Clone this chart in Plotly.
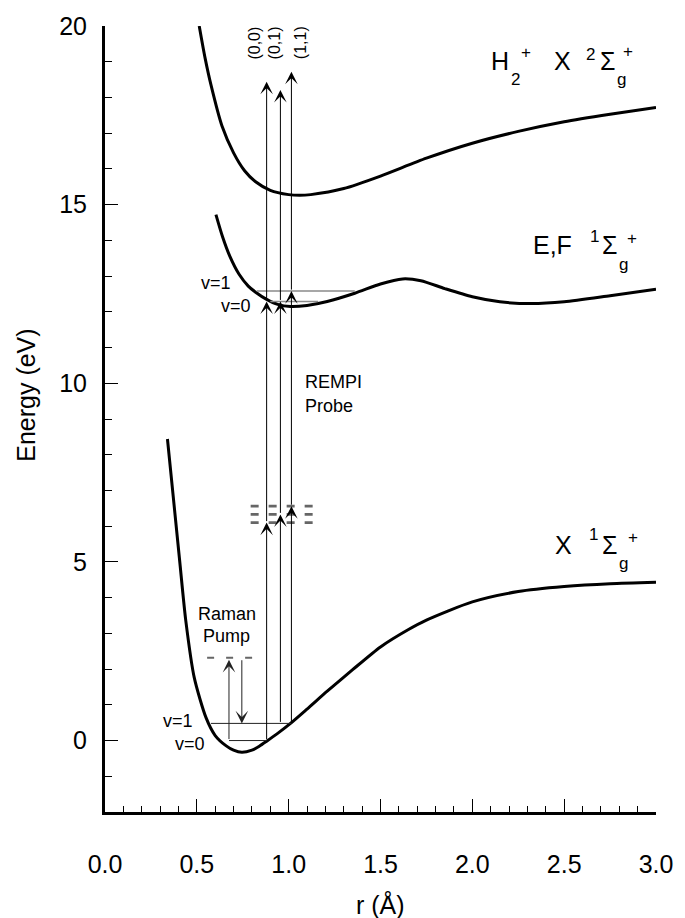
import plotly.graph_objects as go

# ---------------- data (r in Å, energy in eV) ----------------
# ground state X 1Σg+
ground_r = [0.34, 0.405, 0.44, 0.486, 0.55, 0.60, 0.66, 0.70, 0.745, 0.80, 0.84, 0.88, 0.94, 1.01, 1.1,
            1.21, 1.35, 1.5, 1.65, 1.75, 2.0, 2.25, 2.5, 2.75, 3.0]
ground_E = [8.44, 5.11, 3.35, 1.76, 0.64, 0.14, -0.15, -0.27, -0.33, -0.27, -0.16, -0.02, 0.2, 0.48, 0.88,
            1.38, 1.99, 2.62, 3.1, 3.37, 3.88, 4.17, 4.31, 4.39, 4.43]

# double-well E,F 1Σg+ state
ef_r = [0.604, 0.64, 0.68, 0.73, 0.78, 0.82, 0.88, 0.94, 1.01, 1.1, 1.21, 1.36, 1.5, 1.62, 1.72, 1.85,
        2.0, 2.15, 2.32, 2.5, 2.75, 3.0]
ef_E = [14.72, 14.1, 13.55, 13.05, 12.72, 12.55, 12.35, 12.21, 12.15, 12.18, 12.29, 12.52, 12.78, 12.92,
        12.87, 12.65, 12.42, 12.28, 12.23, 12.28, 12.45, 12.63]

# ion H2+ X 2Σg+
ion_r = [0.513, 0.545, 0.577, 0.637, 0.70, 0.76, 0.82, 0.9, 1.0, 1.06, 1.12, 1.3, 1.5, 1.75, 2.0, 2.25,
         2.5, 2.75, 3.0]
ion_E = [20.0, 19.1, 18.35, 17.2, 16.45, 15.95, 15.64, 15.4, 15.28, 15.26, 15.28, 15.45, 15.8, 16.3,
         16.72, 17.05, 17.32, 17.53, 17.72]

# vibrational levels: energy and r extent
ground_level_names = ["v=0", "v=1"]
ground_level_E = [0.0, 0.48]
ground_level_r0 = [0.675, 0.577]
ground_level_r1 = [0.88, 1.015]

ef_level_names = ["v=0", "v=1"]
ef_level_E = [12.29, 12.58]
ef_level_r0 = [0.90, 0.826]
ef_level_r1 = [1.16, 1.36]

# Raman pump
raman_up_r = 0.675
raman_up_tip = 2.26
raman_down_r = 0.745
raman_down_from = 2.29
raman_virtual_E = 2.32
raman_virtual_r = [0.556, 0.81]

# REMPI probe transitions (v', v'')
probe_labels = ["(0,0)", "(0,1)", "(1,1)"]
probe_r = [0.88, 0.955, 1.015]
probe_start = [0.0, 0.48, 0.48]
probe_virtual = [6.10, 6.33, 6.56]
probe_ef = [12.29, 12.29, 12.58]
probe_top = [18.44, 18.21, 18.72]
probe_virtual_r = [0.793, 1.133]

# ---------------- figure ----------------
W, H = 685, 918
L, R, T, B = 105, 24, 24, 106
FONT = "Liberation Sans, Arial, Helvetica, sans-serif"


def px_x(p):
    return (p - L) / (W - L - R)


def px_y(p):
    return (H - B - p) / (H - T - B)


fig = go.Figure()

for rr, ee in [(ground_r, ground_E), (ef_r, ef_E), (ion_r, ion_E)]:
    fig.add_trace(go.Scatter(x=rr, y=ee, mode="lines",
                             line=dict(color="black", width=3, shape="spline", smoothing=0.7),
                             hoverinfo="skip", showlegend=False))

for e, a, b in zip(ground_level_E, ground_level_r0, ground_level_r1):
    fig.add_trace(go.Scatter(x=[a, b], y=[e, e], mode="lines",
                             line=dict(color="#222222", width=1), showlegend=False, hoverinfo="skip"))

for e, a, b in zip(ef_level_E, ef_level_r0, ef_level_r1):
    fig.add_trace(go.Scatter(x=[a, b], y=[e, e], mode="lines",
                             line=dict(color="#8a8a8a", width=1.5), showlegend=False, hoverinfo="skip"))

# virtual levels (dashed)
for e in probe_virtual:
    fig.add_trace(go.Scatter(x=probe_virtual_r, y=[e, e], mode="lines",
                             line=dict(color="#666666", width=2.6, dash="8px,10px"),
                             showlegend=False, hoverinfo="skip"))
fig.add_trace(go.Scatter(x=raman_virtual_r, y=[raman_virtual_E, raman_virtual_E], mode="lines",
                         line=dict(color="#666666", width=2, dash="7px,12px"),
                         showlegend=False, hoverinfo="skip"))


def arrow(xv, y_from, y_to, color="black"):
    fig.add_annotation(x=xv, y=y_to, ax=xv, ay=y_from, xref="x", yref="y", axref="x", ayref="y",
                       text="", showarrow=True, arrowhead=3, arrowsize=2.1, arrowwidth=1,
                       arrowcolor=color, standoff=0)


arrow(raman_up_r, 0.0, raman_up_tip, "#222222")
arrow(raman_down_r, raman_down_from, ground_level_E[1], "#222222")

for r, s, v, e, t in zip(probe_r, probe_start, probe_virtual, probe_ef, probe_top):
    arrow(r, s, v)
    arrow(r, v, e)
    arrow(r, e, t)


def put(text, x, y, size, angle=0, xanchor="left"):
    fig.add_annotation(text=text, x=px_x(x), y=px_y(y), xref="paper", yref="paper",
                       xanchor=xanchor, yanchor="middle", showarrow=False, textangle=angle,
                       font=dict(size=size, color="black", family=FONT))


# transition labels
for lab, xc in zip(probe_labels, [256, 277, 303]):
    put(lab, xc, 41, 16, angle=-90, xanchor="center")

# level labels
put(ground_level_names[1], 179, 721, 18, xanchor="center")
put(ground_level_names[0], 191, 744, 18, xanchor="center")
put(ef_level_names[1], 217, 282, 18, xanchor="center")
put(ef_level_names[0], 237, 305, 18, xanchor="center")

put("Raman", 228, 613, 18, xanchor="center")
put("Pump", 228, 636, 18, xanchor="center")
put("REMPI", 305, 381, 18)
put("Probe", 305, 405, 18)

# state labels
for txt, x, y, s in [("H", 492, 59, 25), ("2", 513, 78, 17), ("+", 523, 51, 17),
                     ("X", 556, 59, 25), ("2", 588, 53, 17), ("Σ", 602, 59, 25),
                     ("g", 620, 78, 17), ("+", 626, 50, 17)]:
    put(txt, x, y, s)
for txt, x, y, s in [("E,F", 535, 244, 25), ("1", 592, 235, 17), ("Σ", 604, 244, 25),
                     ("g", 622, 263, 17), ("+", 630, 237, 17)]:
    put(txt, x, y, s)
for txt, x, y, s in [("X", 557, 544, 25), ("1", 591, 534, 17), ("Σ", 604, 544, 25),
                     ("g", 622, 563, 17), ("+", 631, 537, 17)]:
    put(txt, x, y, s)

# axis titles
put("Energy (eV)", 25, 394, 25, angle=-90, xanchor="center")
put("r (Å)", 383, 905, 25, xanchor="center")

fig.update_xaxes(range=[0, 3.0], tickvals=[0, 0.5, 1.0, 1.5, 2.0, 2.5, 3.0], tickformat=".1f",
                 ticks="inside", ticklen=13, tickwidth=1, tickcolor="black",
                 minor=dict(dtick=0.1, ticks="inside", ticklen=6, tickwidth=1, tickcolor="black"),
                 showline=True, linewidth=3, linecolor="black", showgrid=False, zeroline=False,
                 ticklabelstandoff=28, tickfont=dict(size=25, color="black", family=FONT))
fig.update_yaxes(range=[-2, 20], tickvals=[0, 5, 10, 15, 20],
                 ticks="inside", ticklen=13, tickwidth=1, tickcolor="black",
                 minor=dict(dtick=1, ticks="inside", ticklen=7, tickwidth=1, tickcolor="black"),
                 showline=True, linewidth=3, linecolor="black", showgrid=False, zeroline=False,
                 ticklabelstandoff=10, tickfont=dict(size=25, color="black", family=FONT))

fig.update_layout(width=W, height=H, margin=dict(l=L, r=R, t=T, b=B, pad=0),
                  plot_bgcolor="white", paper_bgcolor="white", showlegend=False,
                  font=dict(family=FONT, color="black"))

fig.write_html("out.html")
